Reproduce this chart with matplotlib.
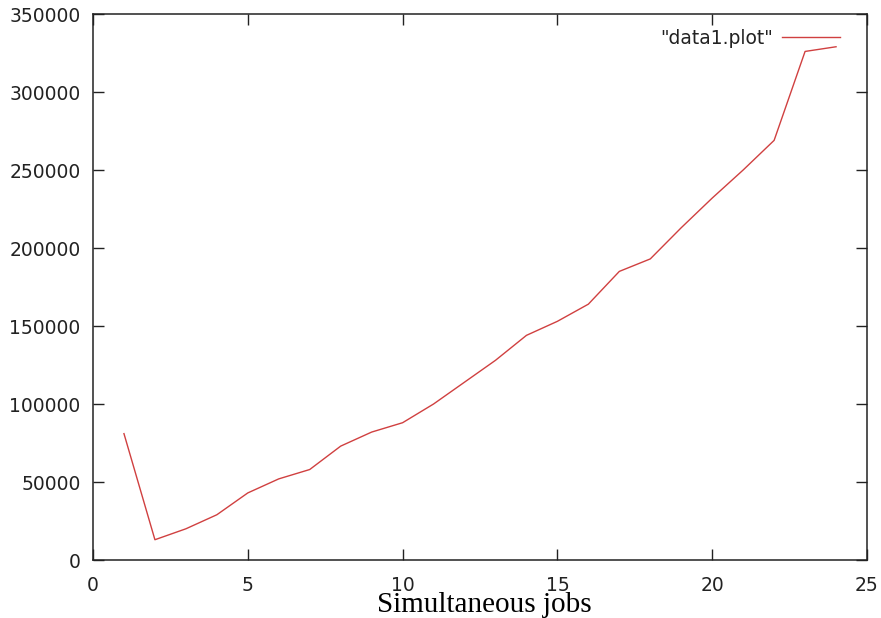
import matplotlib
matplotlib.use('Agg')
import matplotlib.pyplot as plt

# dados
jobs = list(range(1, 25))
valores = [81000, 13000, 20000, 29000, 43000, 52000, 58000, 73000, 82000, 88000,
           100000, 114000, 128000, 144000, 153000, 164000, 185000, 193000, 213000,
           232000, 250000, 269000, 326000, 329000]
xticks = [0, 5, 10, 15, 20, 25]
yticks = [0, 50000, 100000, 150000, 200000, 250000, 300000, 350000]

fig = plt.figure(figsize=(8.81, 6.18), dpi=100)
ax = fig.add_axes([93 / 881, 1 - 560 / 618, (867 - 93) / 881, (560 - 14) / 618])

ax.plot(jobs, valores, color='#d04040', linewidth=1.0, label='"data1.plot"')

ax.set_xlim(0, 25)
ax.set_ylim(0, 350000)
ax.set_xticks(xticks)
ax.set_yticks(yticks)
ax.set_yticklabels([str(v) for v in yticks])
ax.tick_params(direction='in', length=7.8, width=1.0, top=True, right=True,
               labelsize=13.5, colors='#222222', pad=9)
ax.tick_params(axis='x', pad=11.5)
for s in ax.spines.values():
    s.set_linewidth(1.1)
    s.set_color('#222222')

# legenda no canto superior direito, texto antes da linha (estilo gnuplot)
leg = ax.legend(loc='upper right', bbox_to_anchor=(1 - 12 / 774, 1), frameon=False,
                fontsize=13.5, markerfirst=False, handlelength=3.1,
                handletextpad=0.5, borderaxespad=0.4)
for t in leg.get_texts():
    t.set_color('#222222')

fig.text(0.55, 0.0102, 'Simultaneous jobs', family='Liberation Serif', fontsize=21,
         ha='center', va='baseline', color='black')

fig.savefig('out.png', dpi=100)
